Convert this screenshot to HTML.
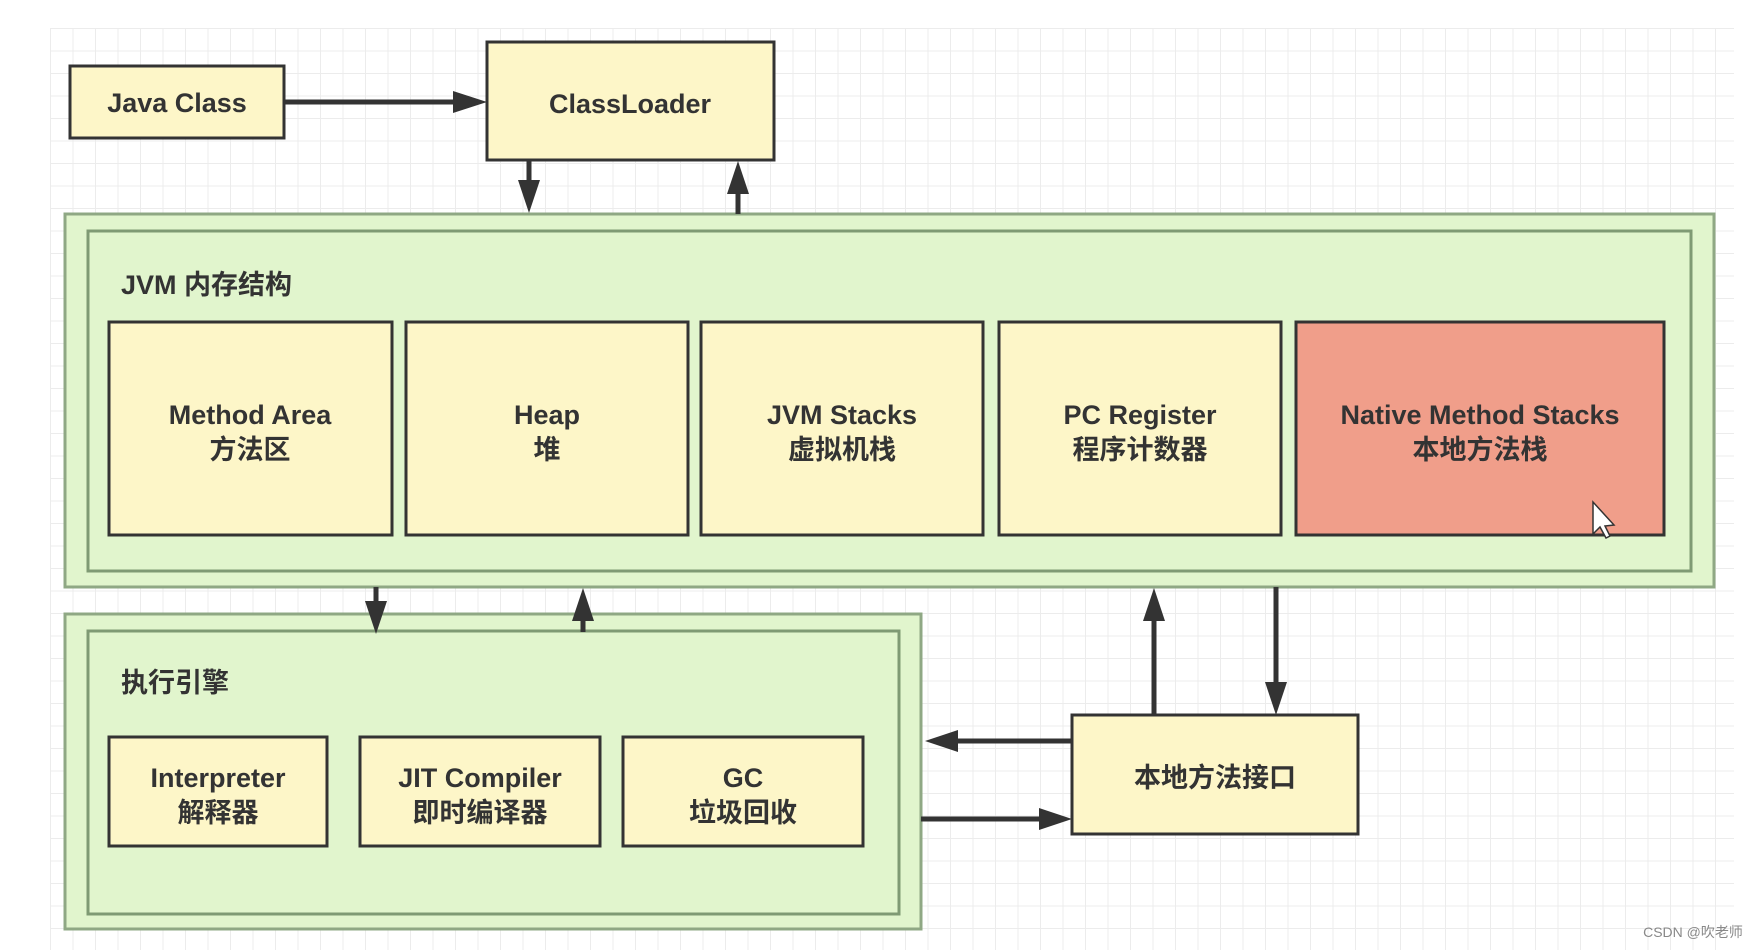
<!DOCTYPE html>
<html><head><meta charset="utf-8"><style>
html,body{margin:0;padding:0;background:#fff;}
svg{display:block;}
text{font-family:"Liberation Sans","Noto Sans CJK SC",sans-serif;font-weight:bold;fill:#333;font-size:27px;text-anchor:middle;}
</style></head><body>
<svg width="1760" height="950" viewBox="0 0 1760 950" xmlns="http://www.w3.org/2000/svg">
<defs>
<pattern id="g" x="50" y="28" width="22.5" height="22.5" patternUnits="userSpaceOnUse">
<path d="M0 0H22.5M0 0V22.5" stroke="#ececec" stroke-width="2" fill="none"/>
</pattern>
<marker id="a" markerWidth="10" markerHeight="10" refX="9" refY="5" orient="auto" markerUnits="userSpaceOnUse" viewBox="0 0 10 10">
</marker>
</defs>
<rect x="50" y="28" width="1684" height="922" fill="url(#g)"/>
<g stroke="#333" stroke-width="3">
<rect x="70" y="66" width="214" height="72" fill="#fdf6c8"/>
<rect x="487" y="42" width="287" height="118" fill="#fdf6c8"/>
</g>
<text x="177" y="112">Java Class</text>
<text x="630" y="113">ClassLoader</text>
<rect x="65" y="214" width="1649" height="373" fill="#e1f5cd" stroke="#8fa884" stroke-width="3"/>
<rect x="88" y="231" width="1603" height="340" fill="#e1f5cd" stroke="#7f9a74" stroke-width="3"/>
<text x="121" y="294" style="text-anchor:start;font-size:27px">JVM 内存结构</text>
<g stroke="#333" stroke-width="3">
<rect x="109" y="322" width="283" height="213" fill="#fdf6c8"/>
<rect x="406" y="322" width="282" height="213" fill="#fdf6c8"/>
<rect x="701" y="322" width="282" height="213" fill="#fdf6c8"/>
<rect x="999" y="322" width="282" height="213" fill="#fdf6c8"/>
<rect x="1296" y="322" width="368" height="213" fill="#f09e8a"/>
</g>
<text x="250" y="424">Method Area</text><text x="250" y="459">方法区</text>
<text x="547" y="424">Heap</text><text x="547" y="459">堆</text>
<text x="842" y="424">JVM Stacks</text><text x="842" y="459">虚拟机栈</text>
<text x="1140" y="424">PC Register</text><text x="1140" y="459">程序计数器</text>
<text x="1480" y="424">Native Method Stacks</text><text x="1480" y="459">本地方法栈</text>
<path d="M1593 502 L1593 534 L1600 527 L1606 538 L1610 536 L1605 526 L1614 525 Z" fill="#fff" stroke="#333" stroke-width="1.5"/>
<rect x="65" y="614" width="856" height="315" fill="#e1f5cd" stroke="#8fa884" stroke-width="3"/>
<rect x="88" y="631" width="811" height="283" fill="#e1f5cd" stroke="#7f9a74" stroke-width="3"/>
<text x="121" y="692" style="text-anchor:start">执行引擎</text>
<g stroke="#333" stroke-width="3">
<rect x="109" y="737" width="218" height="109" fill="#fdf6c8"/>
<rect x="360" y="737" width="240" height="109" fill="#fdf6c8"/>
<rect x="623" y="737" width="240" height="109" fill="#fdf6c8"/>
<rect x="1072" y="715" width="286" height="119" fill="#fdf6c8"/>
</g>
<text x="218" y="787">Interpreter</text><text x="218" y="822">解释器</text>
<text x="480" y="787">JIT Compiler</text><text x="480" y="822">即时编译器</text>
<text x="743" y="787">GC</text><text x="743" y="822">垃圾回收</text>
<text x="1215" y="787">本地方法接口</text>
<g stroke="#333" stroke-width="5" fill="none">
<line x1="284" y1="102" x2="456" y2="102"/>
<line x1="529" y1="160" x2="529" y2="185"/>
<line x1="738" y1="214" x2="738" y2="190"/>
<line x1="376" y1="587" x2="376" y2="605"/>
<line x1="583" y1="632" x2="583" y2="610"/>
<line x1="1154" y1="715" x2="1154" y2="614"/>
<line x1="1276" y1="587" x2="1276" y2="688"/>
<line x1="1072" y1="741" x2="955" y2="741"/>
<line x1="921" y1="819" x2="1045" y2="819"/>
</g>
<g fill="#333">
<polygon points="487,102 453,91 453,113"/>
<polygon points="529,213 518,180 540,180"/>
<polygon points="738,161 727,194 749,194"/>
<polygon points="376,634 365,601 387,601"/>
<polygon points="583,588 572,621 594,621"/>
<polygon points="1154,588 1143,621 1165,621"/>
<polygon points="1276,715 1265,682 1287,682"/>
<polygon points="925,741 958,730 958,752"/>
<polygon points="1072,819 1039,808 1039,830"/>
</g>
<text x="1693" y="937" style="font-weight:normal;font-size:14px;fill:#888">CSDN @吹老师</text>
</svg>
</body></html>
